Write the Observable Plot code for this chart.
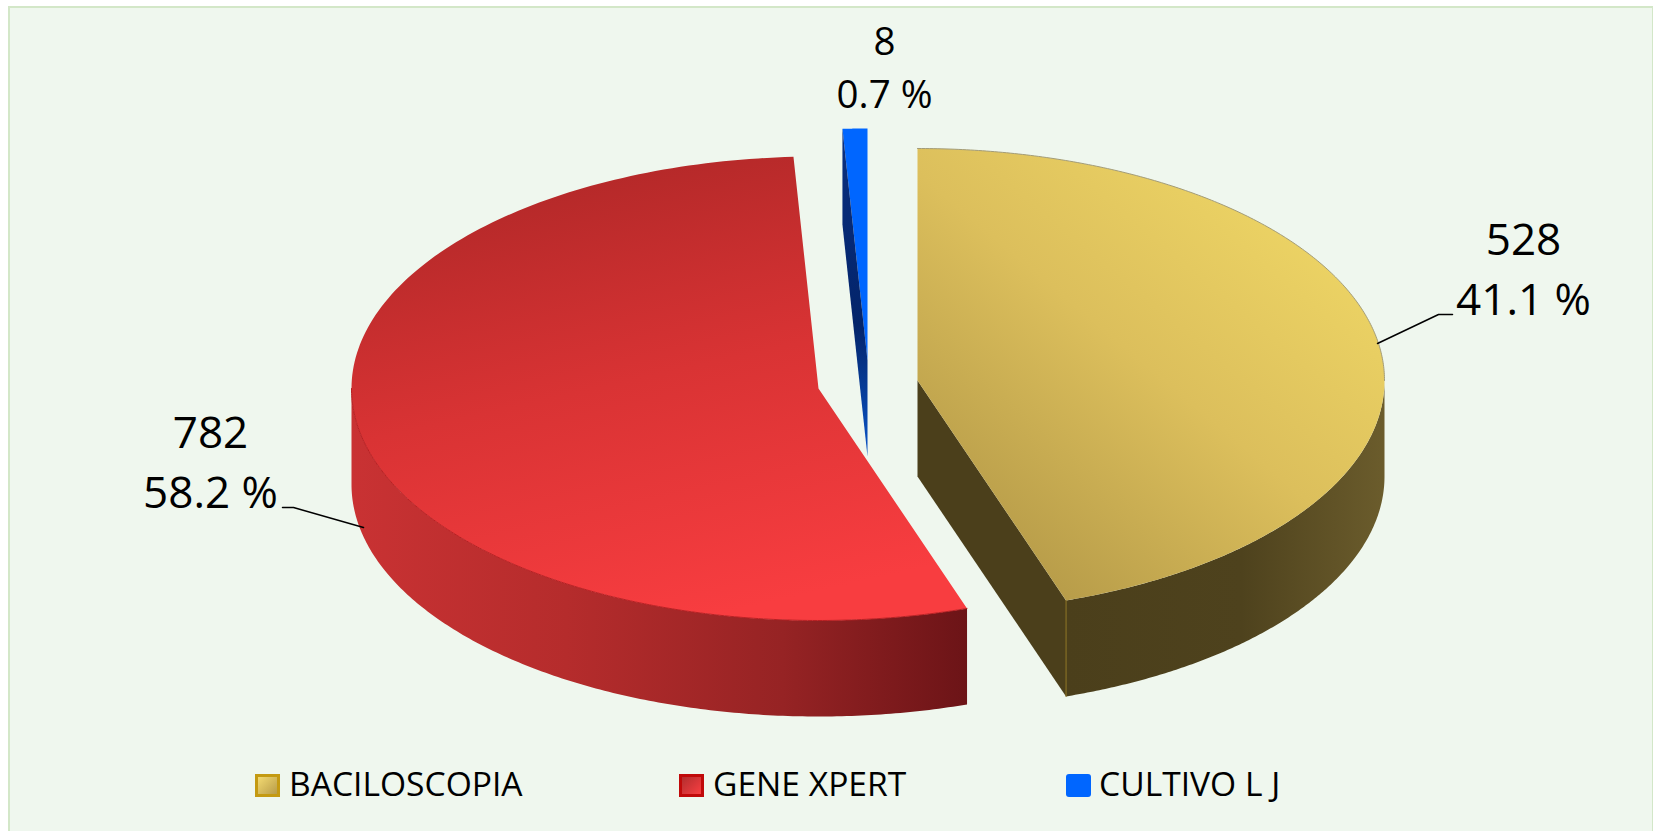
<!DOCTYPE html>
<html>
<head>
<meta charset="utf-8">
<script src="https://cdn.jsdelivr.net/npm/d3@7"></script>
<script src="https://cdn.jsdelivr.net/npm/@observablehq/plot@0.6"></script>
<style>
html,body{margin:0;padding:0;background:#fff;overflow:hidden}
#page{position:absolute;left:8px;top:6px;width:1645px;height:825px;box-sizing:border-box;background:#eff7ee;border-left:2.5px solid #d3e7c8;border-top:2.5px solid #d3e7c8;border-right:1px solid #d3e7c8}
#chart{position:absolute;left:0;top:0;width:1655px;height:755px}
#chart svg{display:block;background:transparent}
#legend{position:absolute;left:0;top:755px;width:1655px;height:76px;font:33.6px "Open Sans",sans-serif;color:#000}
#legend .s{position:absolute;top:19px;width:25px;height:23px;box-sizing:border-box}
#legend .t{position:absolute;top:5px;line-height:46px;white-space:nowrap}
</style>
</head>
<body>
<div id="page"></div>
<div id="chart"></div>
<div id="legend"></div>
<script>
// ---- values ----
const categories = ["BACILOSCOPIA", "GENE XPERT", "CULTIVO L J"];
const counts = [528, 782, 8];
const percents = [41.1, 58.2, 0.7];

// ---- drawing set-up (not data) ----
const W = 1655, H = 755;
const CX = 818, CY = 388, RX = 467, RY = 232;   // pie centre and radii in px
const DEPTH = 96 / RY;                          // wall height in y units
const WARP_A = 0.341, WARP_B = -0.0607;         // 3D-view distortion of the angles
const explode = [[99 / RX, -8 / RY], [0, 0], [49 / RX, -28 / RY]];
const labelAt = [[1523, 265, 44], [210, 458, 44], [884, 64, 38.5]];

const ux = px => (px - CX) / RX, uy = py => (py - CY) / RY;
const warp = a => a + WARP_A * Math.sin(a) + WARP_B * Math.sin(2 * a);

let acc = 0;
const arcs = categories.map((name, i) => {
  const a0 = acc / 100 * 2 * Math.PI; acc += percents[i];
  const a1 = acc / 100 * 2 * Math.PI;
  return {name, i, t0: warp(a0), t1: warp(a1), ox: explode[i][0], oy: explode[i][1]};
});
const rim = (s, t, dz = 0) => ({x: s.ox + Math.sin(t), y: s.oy - Math.cos(t) + dz});
const arcPts = (s, t0, t1, dz = 0) => d3.range(0, 181).map(k => rim(s, t0 + (t1 - t0) * k / 180, dz));
const apex = (s, dz = 0) => ({x: s.ox, y: s.oy + dz});
const topFace = s => [apex(s), ...arcPts(s, s.t0, s.t1)];
const outerWall = (s, t0, t1) => [...arcPts(s, t0, t1), ...arcPts(s, t1, t0, DEPTH)];
const radialWall = (s, t) => [apex(s), rim(s, t), rim(s, t, DEPTH), apex(s, DEPTH)];

const [ya, re, bl] = arcs;
const poly = (pts, fill, extra = {}) =>
  Plot.line(pts, {x: "x", y: "y", fill, stroke: "none", curve: "linear-closed", ...extra});

const stops = (id, x1, y1, x2, y2, list) => {
  const g = d3.create("svg:linearGradient").attr("id", id)
    .attr("x1", x1).attr("y1", y1).attr("x2", x2).attr("y2", y2);
  list.forEach(([o, c]) => g.append("stop").attr("offset", o).attr("stop-color", c));
  return g.node();
};
const defs = () => {
  const d = d3.create("svg:defs");
  [
    stops("yTop", 0.85, 0.2, 0.2, 0.95, [[0, "#ecd364"], [0.45, "#dcbf5c"], [1, "#b59a48"]]),
    stops("yWall", 0, 0, 1, 0, [[0, "#4b3f1b"], [0.55, "#4e421d"], [1, "#6b5c2c"]]),
    stops("rTop", 0.25, 0, 0.55, 1, [[0, "#ae2727"], [0.5, "#d93334"], [1, "#f83d40"]]),
    stops("rWall", 0, 0, 1, 0, [[0, "#c93233"], [0.35, "#b52c2c"], [0.7, "#962324"], [1, "#6c1417"]]),
    stops("bWall", 0, 0, 0, 1, [[0, "#0a2f80"], [0.6, "#03246a"], [1, "#0a55c8"]])
  ].forEach(n => d.node().appendChild(n));
  return d.node();
};

const labels = arcs.map((s, i) => ({
  x: ux(labelAt[i][0]), y: uy(labelAt[i][1]), size: labelAt[i][2],
  text: `${counts[i]}\n${percents[i]} %`
}));
const leaderYellow = [{x: ux(1377), y: uy(343)}, {x: ux(1438), y: uy(314)}, {x: ux(1452), y: uy(314)}];
const leaderRed = [{x: ux(363), y: uy(527)}, {x: ux(293), y: uy(507)}, {x: ux(282), y: uy(507)}];

const plot = Plot.plot({
  width: W, height: H,
  margin: 0,
  style: {background: "transparent"},
  x: {domain: [ux(0), ux(W)], range: [0, W], axis: null},
  y: {domain: [uy(0), uy(H)], range: [0, H], axis: null},
  marks: [
    defs,
    // yellow slice
    poly(radialWall(ya, ya.t1), "#4b3f1b"),
    poly(outerWall(ya, Math.PI / 2, ya.t1), "url(#yWall)"),
    poly(topFace(ya), "url(#yTop)"),
    Plot.line(arcPts(ya, ya.t0, Math.PI / 2), {x: "x", y: "y", stroke: "#a39c78", strokeWidth: 1}),
    Plot.line([rim(ya, ya.t1), rim(ya, ya.t1, DEPTH)], {x: "x", y: "y", stroke: "#8d7423", strokeWidth: 1}),
    // red slice
    poly(outerWall(re, re.t0, 1.5 * Math.PI), "url(#rWall)"),
    poly(topFace(re), "url(#rTop)"),
    Plot.line(arcPts(re, re.t0, 1.5 * Math.PI), {x: "x", y: "y", stroke: "#b81f22", strokeWidth: 1}),
    // blue slice
    poly(topFace(bl), "#0066ff"),
    poly(radialWall(bl, bl.t0), "url(#bWall)"),
    // leader lines
    Plot.line(leaderYellow, {x: "x", y: "y", stroke: "#000", strokeWidth: 1.5}),
    Plot.line(leaderRed, {x: "x", y: "y", stroke: "#000", strokeWidth: 1.5}),
    // data labels
    ...labels.map(l => Plot.text([l], {
      x: "x", y: "y", text: "text", fill: "#000",
      fontFamily: "'Open Sans', sans-serif", fontSize: l.size,
      textAnchor: "middle", lineAnchor: "middle", lineHeight: 1.38
    }))
  ]
});
document.getElementById("chart").appendChild(plot);

// ---- legend below the SVG ----
const swatchStyle = [
  "background:linear-gradient(135deg,#f3da72,#b89c48);border:3px solid #c49a12",
  "background:linear-gradient(135deg,#b32e2e,#f83f42);border:3px solid #c00a0a",
  "background:#0066ff;border-radius:3px"
];
const swatchX = [255, 679, 1066], textX = [289, 713, 1099];
const legend = d3.select("#legend");
categories.forEach((c, i) => {
  legend.append("div").attr("class", "s").attr("style", `left:${swatchX[i]}px;${swatchStyle[i]}`);
  legend.append("div").attr("class", "t").style("left", textX[i] + "px").text(c);
});
</script>
</body>
</html>
